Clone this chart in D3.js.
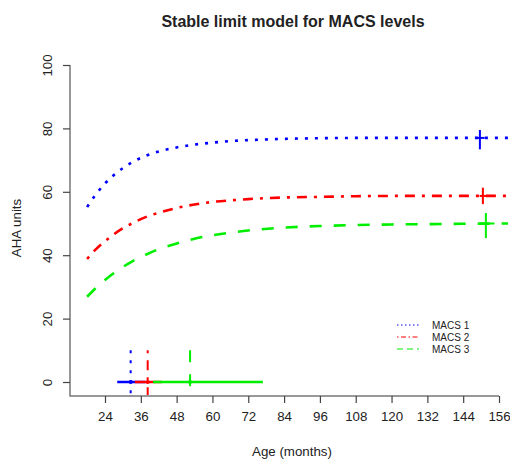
<!DOCTYPE html>
<html>
<head>
<meta charset="utf-8">
<script src="https://cdn.jsdelivr.net/npm/d3@7"></script>
<style>
    body { margin: 0; background: white; }
    text { font-family: "Liberation Sans", Arial, sans-serif; fill: #222; }
</style>
</head>
<body>
<div id="chart"></div>
<script>
// ages (months) where the fitted curves were read
var ages = [18, 21, 24, 27, 30, 33, 36, 42, 48, 54, 60, 66, 72, 84, 96, 108, 120, 132, 144, 159];
var macs1 = [55.2, 59.3, 62.6, 65.3, 67.5, 69.3, 70.7, 72.7, 74.0, 74.9, 75.5, 76.0, 76.3, 76.7, 76.9, 77.0, 77.0, 77.0, 77.0, 77.0];
var macs2 = [38.8, 41.9, 44.4, 46.6, 48.5, 50.0, 51.4, 53.4, 54.9, 56.0, 56.8, 57.3, 57.7, 58.2, 58.4, 58.6, 58.7, 58.7, 58.7, 58.7];
var macs3 = [26.9, 29.7, 32.2, 34.4, 36.3, 38.0, 39.4, 41.9, 43.7, 45.2, 46.3, 47.1, 47.8, 48.7, 49.2, 49.5, 49.7, 49.8, 49.9, 50.0];

var names = ['MACS 1', 'MACS 2', 'MACS 3'];
var colors = ['#0000ff', '#ff0000', '#00ee00'];

// age at 90% of limit: [lower, estimate, upper]
var age90 = [[28.1, 32.6, 37.5], [34, 38.3, 43], [40.1, 52.5, 76.9]];
// limit crosses: ages [left, centre, right] and limit [lower, estimate, upper]
var limitAge = [[148, 149.6, 151.2], [149.5, 150.6, 154], [149.2, 151.6, 154.5]];
var limitVal = [[73.4, 77.0, 79.5], [56.1, 58.7, 61.3], [45.4, 50.0, 53.3]];

var xTicks = [24, 36, 48, 60, 72, 84, 96, 108, 120, 132, 144, 156];
var yTicks = [0, 20, 40, 60, 80, 100];

var width = 510, height = 461;
var svg = d3.select("#chart")
    .append("svg")
    .attr("width", width)
    .attr("height", height);

var x = d3.scaleLinear().domain([24, 156]).range([105, 499]);
var y = d3.scaleLinear().domain([0, 100]).range([382, 65]);
var yBottom = 396, xLeft = 70;

// dash styles like R lty 3, 4, 2
var dashes = ["3,7", "3,7,10,7", "12,12"];
var legendDashes = ["1.5,2.5", "1.5,2.5,5,2.5", "6,4"];

// axis lines (L shape)
svg.append("path")
    .attr("d", "M" + xLeft + "," + y(100) + "V" + yBottom + "H" + x(156))
    .attr("fill", "none")
    .attr("stroke", "#777")
    .attr("stroke-width", 1.5);

// x axis
var gx = svg.append("g")
    .attr("transform", "translate(0," + yBottom + ")")
    .call(d3.axisBottom(x).tickValues(xTicks).tickSize(7).tickPadding(9));
gx.select(".domain").remove();
gx.selectAll("line").attr("stroke", "#444").attr("stroke-width", 1.2);
gx.selectAll("text").style("font-size", "13.3px").style("font-family", "Liberation Sans, Arial, sans-serif").attr("fill", "#222");

// y axis, labels rotated like R
var gy = svg.append("g")
    .attr("transform", "translate(" + xLeft + ",0)")
    .call(d3.axisLeft(y).tickValues(yTicks).tickSize(7));
gy.select(".domain").remove();
gy.selectAll("line").attr("stroke", "#444").attr("stroke-width", 1.2);
gy.selectAll("text")
    .attr("x", 0).attr("dy", 0)
    .attr("transform", "translate(-18,0) rotate(-90)")
    .style("text-anchor", "middle")
    .style("font-size", "13.3px")
    .style("font-family", "Liberation Sans, Arial, sans-serif")
    .attr("fill", "#222");

// curves
var line = d3.line()
    .x(function(d) { return x(d[0]); })
    .y(function(d) { return y(d[1]); })
    .curve(d3.curveMonotoneX);

[macs1, macs2, macs3].forEach(function(vals, i) {
    svg.append("path")
        .datum(ages.map(function(a, k) { return [a, vals[k]]; }))
        .attr("d", line)
        .attr("fill", "none")
        .attr("stroke", colors[i])
        .attr("stroke-width", 2.6)
        .attr("stroke-dasharray", dashes[i]);
});

// age at 90% of limit, near the bottom
for (var i = 0; i < 3; i++) {
    svg.append("line")
        .attr("x1", x(age90[i][1])).attr("x2", x(age90[i][1]))
        .attr("y1", y(10)).attr("y2", yBottom - 1)
        .attr("stroke", colors[i])
        .attr("stroke-width", 2)
        .attr("stroke-dasharray", dashes[i]);
}
for (var i = 0; i < 3; i++) {
    svg.append("line")
        .attr("x1", x(age90[i][0])).attr("x2", x(age90[i][2]))
        .attr("y1", y(0)).attr("y2", y(0))
        .attr("stroke", colors[i])
        .attr("stroke-width", 2.5);
    svg.append("circle")
        .attr("cx", x(age90[i][1])).attr("cy", y(0))
        .attr("r", 2)
        .attr("fill", colors[i]);
}

// limit crosses on the right
for (var i = 0; i < 3; i++) {
    svg.append("line")
        .attr("x1", x(limitAge[i][1])).attr("x2", x(limitAge[i][1]))
        .attr("y1", y(limitVal[i][0])).attr("y2", y(limitVal[i][2]))
        .attr("stroke", colors[i])
        .attr("stroke-width", 2);
    svg.append("line")
        .attr("x1", x(limitAge[i][0])).attr("x2", x(limitAge[i][2]))
        .attr("y1", y(limitVal[i][1])).attr("y2", y(limitVal[i][1]))
        .attr("stroke", colors[i])
        .attr("stroke-width", 2);
}

// legend
var legend = svg.append("g").attr("transform", "translate(397,325)");
names.forEach(function(n, i) {
    legend.append("line")
        .attr("x1", 0).attr("x2", 22)
        .attr("y1", i * 12).attr("y2", i * 12)
        .attr("stroke", colors[i])
        .attr("stroke-width", 1)
        .attr("stroke-dasharray", legendDashes[i]);
    legend.append("text")
        .attr("x", 35).attr("y", i * 12 + 3.5)
        .style("font-size", "10px")
        .text(n);
});

// title and axis labels
svg.append("text")
    .attr("x", 293).attr("y", 27)
    .attr("text-anchor", "middle")
    .style("font-size", "16px")
    .style("font-weight", "bold")
    .text("Stable limit model for MACS levels");

svg.append("text")
    .attr("x", 292).attr("y", 456)
    .attr("text-anchor", "middle")
    .style("font-size", "13.3px")
    .text("Age (months)");

svg.append("text")
    .attr("transform", "translate(21,228) rotate(-90)")
    .attr("text-anchor", "middle")
    .style("font-size", "13.3px")
    .text("AHA units");
</script>
</body>
</html>
